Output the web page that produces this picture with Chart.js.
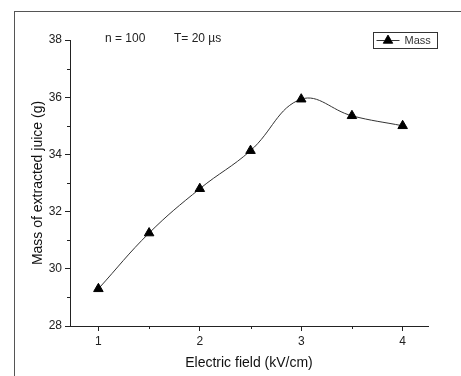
<!DOCTYPE html>
<html>
<head>
<meta charset="utf-8">
<script src="https://cdn.jsdelivr.net/npm/chart.js@4"></script>
<style>
  html, body { margin: 0; padding: 0; background: #fff; }
  #wrap { position: relative; width: 461px; height: 376px; overflow: hidden; }
  #frame { position: absolute; left: 14px; top: 11px; right: -2px; bottom: -2px; border-left: 1px solid #555; border-top: 1px solid #555; pointer-events: none; }
</style>
</head>
<body>
<div id="wrap">
  <canvas id="myChart" width="461" height="376"></canvas>
  <div id="frame"></div>
</div>
<script>
const fieldValues = [1, 1.5, 2, 2.5, 3, 3.5, 4];
const massValues = [29.3, 31.25, 32.8, 34.13, 35.93, 35.35, 35.0];
const xMajorTicks = [1, 2, 3, 4];
const xMinorTicks = [1.5, 2.5, 3.5];
const yMajorTicks = [28, 30, 32, 34, 36, 38];
const yMinorTicks = [29, 31, 33, 35, 37];
const notes = ["n = 100", "T= 20 µs"];
const seriesName = "Mass";

const FONT = "'Liberation Sans', Arial, sans-serif";
const INK = "#222";

// minor ticks, the two notes at the top and the boxed legend
const extras = {
  id: "extras",
  afterDraw(chart) {
    const ctx = chart.ctx;
    const xs = chart.scales.x;
    const ys = chart.scales.y;
    const area = chart.chartArea;
    ctx.save();
    ctx.strokeStyle = INK;
    ctx.lineWidth = 1;
    ctx.beginPath();
    xMinorTicks.forEach((v) => {
      const px = Math.round(xs.getPixelForValue(v)) + 0.5;
      ctx.moveTo(px, area.bottom);
      ctx.lineTo(px, area.bottom + 3);
    });
    yMinorTicks.forEach((v) => {
      const py = Math.round(ys.getPixelForValue(v)) + 0.5;
      ctx.moveTo(area.left, py);
      ctx.lineTo(area.left - 3, py);
    });
    ctx.stroke();

    // notes
    ctx.fillStyle = INK;
    ctx.font = "12px " + FONT;
    ctx.textBaseline = "middle";
    ctx.textAlign = "left";
    ctx.fillText(notes[0], area.left + 35, area.top - 1);
    ctx.fillText(notes[1], area.left + 104, area.top - 1);

    // legend box
    const bx = 373.5, by = 32.5, bw = 64, bh = 16;
    ctx.strokeStyle = "#333";
    ctx.strokeRect(bx, by, bw, bh);
    const my = by + bh / 2;
    ctx.beginPath();
    ctx.moveTo(bx + 3, my);
    ctx.lineTo(bx + 26, my);
    ctx.stroke();
    Chart.helpers.drawPoint(ctx, { pointStyle: "triangle", radius: 5.5, borderWidth: 1 }, bx + 14.5, my);
    ctx.fillStyle = "#000";
    ctx.fill();
    ctx.fillStyle = "#333";
    ctx.font = "11px " + FONT;
    ctx.fillText(seriesName, bx + 31, my + 0.5);
    ctx.restore();
  }
};

const graph = document.querySelector("#myChart");
const chart = new Chart(graph, {
  type: "line",
  data: {
    datasets: [
      {
        label: seriesName,
        data: fieldValues.map((x, i) => ({ x: x, y: massValues[i] })),
        borderColor: "#333",
        borderWidth: 1,
        tension: 0.4,
        pointStyle: "triangle",
        pointRadius: 5.5,
        pointBackgroundColor: "#000",
        pointBorderColor: "#000",
        pointBorderWidth: 1,
        fill: false,
      },
    ],
  },
  options: {
    responsive: false,
    animation: false,
    devicePixelRatio: 1,
    layout: { padding: { left: 26, right: 33, top: 40, bottom: 0 } },
    plugins: {
      legend: { display: false },
      tooltip: { enabled: false },
    },
    scales: {
      x: {
        type: "linear",
        min: 0.72,
        max: 4.25,
        afterBuildTicks: (s) => { s.ticks = xMajorTicks.map((v) => ({ value: v })); },
        afterFit: (s) => { s.height = 50; },
        ticks: { color: INK, font: { family: FONT, size: 12 }, padding: 3 },
        grid: { drawOnChartArea: false, drawTicks: true, tickLength: 5, color: INK },
        border: { display: true, color: INK, width: 1 },
        title: { display: true, text: "Electric field (kV/cm)", color: "#111", font: { family: FONT, size: 14 }, padding: { top: 5 } },
      },
      y: {
        min: 28,
        max: 38,
        afterBuildTicks: (s) => { s.ticks = yMajorTicks.map((v) => ({ value: v })); },
        afterFit: (s) => { s.width = 44; },
        ticks: { color: INK, font: { family: FONT, size: 12 }, padding: 3 },
        grid: { drawOnChartArea: false, drawTicks: true, tickLength: 5, color: INK },
        border: { display: true, color: INK, width: 1 },
        title: { display: true, text: "Mass of extracted juice (g)", color: "#111", font: { family: FONT, size: 14 }, padding: { bottom: 2 } },
      },
    },
  },
  plugins: [extras],
});
</script>
</body>
</html>
